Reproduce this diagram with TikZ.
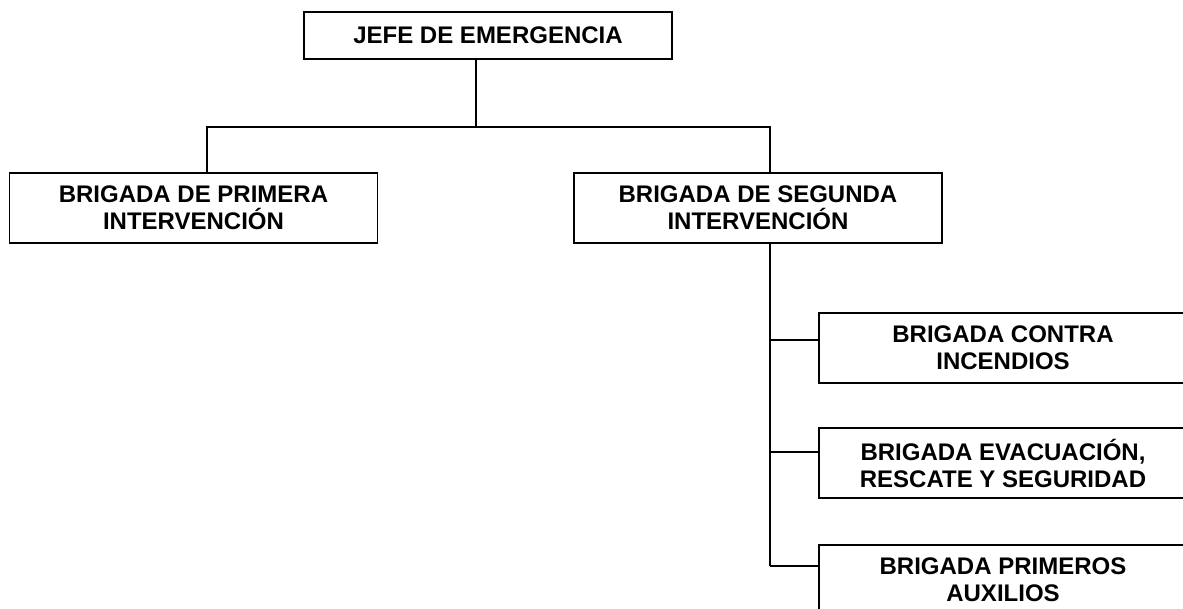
\documentclass[tikz,border=0pt]{standalone}
\usepackage{fontspec}
\setmainfont{Liberation Sans}
\usetikzlibrary{positioning}

\begin{document}
\begin{tikzpicture}[
    x=1pt,
    y=-1pt,
    unit/.style={
      draw,
      line width=1.4pt,
      rectangle,
      minimum width=368,
      minimum height=70,
      inner sep=0,
      align=center,
      font=\bfseries\fontsize{24}{27}\selectfont,
    },
    link/.style={
      line width=1.4pt,
    },
  ]
    \useasboundingbox[fill=white] (0, 0) rectangle (1183, 608);
    \clip (0, 0) rectangle (1183, 608);

    \newcommand\branch[2]{%
      \coordinate (#1-b) at (770, #2);
      \draw[link] (#1-b) -- (#1-b -| #1.west);
    }

    \node[unit,minimum height=47] (jefe) at (488, 35.5) {JEFE DE EMERGENCIA};
    \node[unit] (primera) at (193.5, 208) {BRIGADA DE PRIMERA\\INTERVENCIÓN};
    \node[unit] (segunda) at (758, 208) {BRIGADA DE SEGUNDA\\INTERVENCIÓN};

    \node[unit] (incendios) at (1003, 348) {BRIGADA CONTRA\\INCENDIOS};
    \node[unit] (evacuacion) at (1003, 463) {BRIGADA EVACUACIÓN,\\RESCATE Y SEGURIDAD};
    \node[unit] (auxilios) at (1003, 580) {BRIGADA PRIMEROS\\AUXILIOS};

    % top level
    \coordinate (top-bus) at (476, 127);
    \coordinate (left-bus) at (207, 127);
    \coordinate (right-bus) at (770, 127);
    \draw[link] (top-bus |- jefe.south) -- (top-bus);
    \draw[link] (left-bus |- primera.north) -- (left-bus) -- (right-bus)
      -- (right-bus |- segunda.north);

    % second level
    \coordinate (spine) at (770, 566);
    \draw[link] (spine |- segunda.south) -- (spine);
    \branch{incendios}{340}
    \branch{evacuacion}{452}
    \branch{auxilios}{566}
  \end{tikzpicture}
\end{document}
